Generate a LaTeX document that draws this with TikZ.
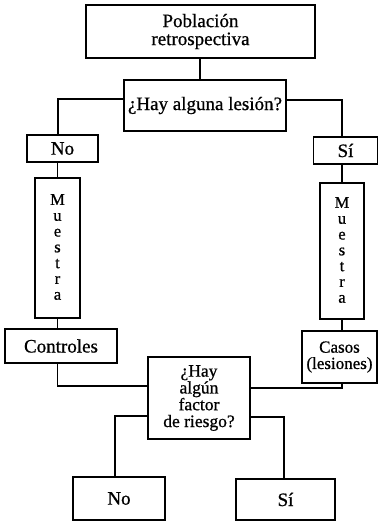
\documentclass[tikz,border=0pt]{standalone}
\usepackage{fontspec}
\setmainfont[FakeBold=0.8]{Liberation Serif}
\usetikzlibrary{%
  positioning,%
  calc,%
}
\tikzset{
  caja/.style={draw, line width=1.5pt, align=center, inner sep=0pt,
    font=\fontsize{19}{18}\selectfont},
  apretado/.style={font=\fontsize{17}{16.3}\selectfont},
  vertical/.style={align=center, font=\fontsize{16.5}{15.8}\selectfont},
  linea/.style={line width=1.2pt},
}
\begin{document}
\begin{tikzpicture}[x=1pt,y=-1pt]
    \useasboundingbox (0,0) rectangle (379,522);
    % cajas
    \node[caja, minimum width=229pt, minimum height=53pt] (pob) at (200.5,31.5) {Población\\retrospectiva};
    \node[caja, minimum width=162pt, minimum height=51pt] (lesion) at (205,105.5) {¿Hay alguna lesión?};
    \node[caja, minimum width=71pt, minimum height=27pt] (noA) at (62.5,148.5) {No};
    \node[caja, minimum width=64pt, minimum height=27pt] (siA) at (345.5,150.5) {Sí};
    \node[caja, minimum width=45pt, minimum height=140pt,
          label={[vertical, yshift=1pt]center:M\\u\\e\\s\\t\\r\\a}] (muesA) at (57.5,248) {};
    \node[caja, minimum width=44pt, minimum height=136pt,
          label={[vertical, yshift=1pt]center:M\\u\\e\\s\\t\\r\\a}] (muesB) at (342,251) {};
    \node[caja, minimum width=112pt, minimum height=34pt] (contr) at (61,346) {Controles};
    \node[caja, apretado, minimum width=75pt, minimum height=52pt] (casos) at (339.5,357) {Casos\\(lesiones)};
    \node[caja, font=\fontsize{17.5}{16.8}\selectfont, minimum width=102pt, minimum height=82pt] (factor) at (199,398) {¿Hay\\algún\\factor\\de riesgo?};
    \node[caja, minimum width=92pt, minimum height=43pt] (noB) at (119,498.5) {No};
    \node[caja, minimum width=99pt, minimum height=41pt] (siB) at (285.5,499.5) {Sí};
    % conectores
    \draw[linea] (pob.south -| 200,0) -- (lesion.north -| 200,0);
    \draw[linea] ([yshift=6.5pt]lesion.west) -| ([xshift=-4.5pt]noA.north);
    \draw[linea] ([yshift=5.5pt]lesion.east) -| ([xshift=-3.5pt]siA.north);
    \draw[linea] (noA.south -| muesA.north) -- (muesA.north);
    \draw[linea] (siA.south -| muesB.north) -- (muesB.north);
    \draw[linea] (muesA.south) -- (muesA.south |- contr.north);
    \draw[linea] (muesB.south) -- (muesB.south |- casos.north);
    \draw[linea] (contr.south -| muesA.south) |- ([yshift=12pt]factor.west);
    \draw[linea] ([yshift=10pt]factor.east) -| (casos.south -| muesB.south);
    \draw[linea] ([yshift=-18pt]factor.west) -| ([xshift=-4pt]noB.north);
    \draw[linea] ([yshift=-19pt]factor.east) -| ([xshift=-1.5pt]siB.north);
\end{tikzpicture}
\end{document}
